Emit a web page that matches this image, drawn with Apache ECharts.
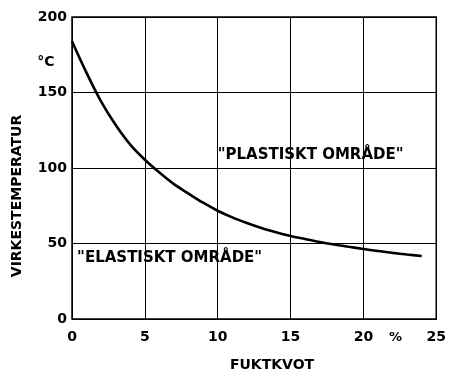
<!DOCTYPE html>
<html><head><meta charset="utf-8">
<script src="https://cdn.jsdelivr.net/npm/echarts@6/dist/echarts.min.js"></script>
<style>html,body{margin:0;padding:0;background:#fff}#c{width:449px;height:373px}</style>
</head><body><div id="c"></div>
<script>
const moisture = [0,1,2,3,4,5,6,7,8,9,10,11,12,13,14,15,16,17,18,19,20,21,22,23,24];
const temperature = [184,163,144,128.5,115.5,105.5,97,89.3,83,77,71.7,67.3,63.6,60.3,57.5,55,53,51,49.3,47.8,46.4,45,43.8,42.7,41.7];
const xTicks = [0,5,10,15,20,25];
const yTicks = [0,50,100,150,200];
const yUnit = '°C';
const xUnit = '%';
const xName = 'FUKTKVOT';
const yName = 'VIRKESTEMPERATUR';
const regionLabels = ['"PLASTISKT OMRÅDE"', '"ELASTISKT OMRÅDE"'];
const regionPos = [[10.0, 108.6], [0.35, 40.4]];

const FONT = 'DejaVu Sans';
const chart = echarts.init(document.getElementById('c'));
chart.setOption({
  animation: false,
  backgroundColor: '#fff',
  grid: {left: 72, right: 8, top: 17, bottom: 54, show: true, borderColor: '#000', borderWidth: 1.5},
  xAxis: {
    type: 'value', min: 0, max: 25, interval: 5,
    axisLine: {show: false}, axisTick: {show: false},
    splitLine: {show: true, lineStyle: {color: '#000', width: 1}},
    axisLabel: {color: '#000', fontFamily: FONT, fontWeight: 'bold', fontSize: 14, margin: 11}
  },
  yAxis: {
    type: 'value', min: 0, max: 200, interval: 50,
    axisLine: {show: false}, axisTick: {show: false},
    splitLine: {show: true, lineStyle: {color: '#000', width: 1}},
    axisLabel: {color: '#000', fontFamily: FONT, fontWeight: 'bold', fontSize: 14, margin: 5}
  },
  series: [{
    type: 'line', data: moisture.map((m, i) => [m, temperature[i]]),
    smooth: 0.35, symbol: 'none',
    lineStyle: {color: '#000', width: 2.6}
  }]
});

function place() {
  const g = [];
  regionLabels.forEach((t, i) => {
    const p = chart.convertToPixel({gridIndex: 0}, regionPos[i]);
    g.push({type: 'text', x: p[0], y: p[1], style: {text: t, fill: '#000', font: 'bold 15px ' + FONT, textVerticalAlign: 'middle', textAlign: 'left'}});
  });
  const pu = chart.convertToPixel({gridIndex: 0}, [22.2, 0]);
  g.push({type: 'text', x: pu[0], y: pu[1] + 19, style: {text: xUnit, fill: '#000', font: 'bold 13px ' + FONT, textAlign: 'center', textVerticalAlign: 'middle'}});
  const pc = chart.convertToPixel({gridIndex: 0}, [0, 200]);
  g.push({type: 'text', x: pc[0] - 26, y: pc[1] + 45, style: {text: yUnit, fill: '#000', font: 'bold 14px ' + FONT, textAlign: 'center', textVerticalAlign: 'middle'}});
  g.push({type: 'text', x: 272, y: 365, style: {text: xName, fill: '#000', font: 'bold 14px ' + FONT, textAlign: 'center', textVerticalAlign: 'middle'}});
  g.push({type: 'text', x: 17, y: 196, rotation: Math.PI / 2, style: {text: yName, fill: '#000', font: 'bold 14px ' + FONT, textAlign: 'center', textVerticalAlign: 'middle'}});
  chart.setOption({graphic: g});
}
place();
</script></body></html>
